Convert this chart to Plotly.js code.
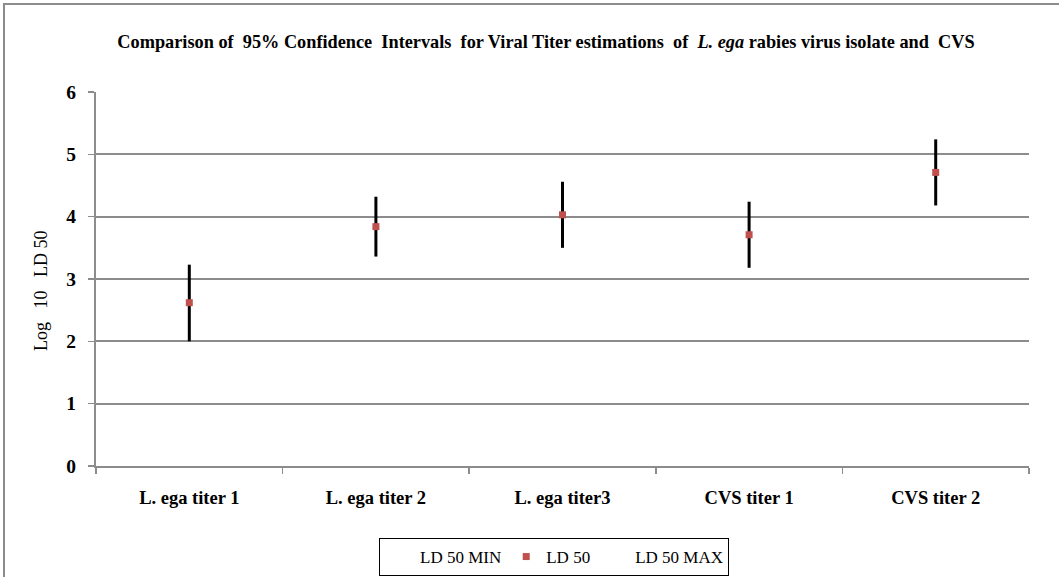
<!DOCTYPE html>
<html>
<head>
<meta charset="utf-8">
<script src="https://cdn.plot.ly/plotly-3.0.1.min.js"></script>
<style>
  html, body { margin: 0; padding: 0; background: #fff; }
  #wrap { position: relative; width: 1059px; height: 577px; overflow: hidden; }
  #chart { position: absolute; left: 0; top: 0; width: 1059px; height: 577px; }
  #frame { position: absolute; left: 3px; top: 3px; width: 1070px; height: 600px;
           border-left: 2px solid #8c8c8c; border-top: 2px solid #8c8c8c; pointer-events: none; }
</style>
</head>
<body>
<div id="wrap">
  <div id="chart"></div>
  <div id="frame"></div>
</div>
<script>
const categories = ["L. ega titer 1", "L. ega titer 2", "L. ega titer3", "CVS titer 1", "CVS titer 2"];
const ld50Min = [2.00, 3.36, 3.50, 3.18, 4.18];
const ld50 =    [2.62, 3.84, 4.03, 3.71, 4.71];
const ld50Max = [3.23, 4.32, 4.56, 4.24, 5.24];
const yTicks = [0, 1, 2, 3, 4, 5, 6];

const serif = "Liberation Serif, Times New Roman, serif";

const traces = [
  {
    name: "LD 50 MIN",
    type: "scatter",
    mode: "markers",
    x: categories,
    y: ld50Min,
    marker: { color: "rgba(0,0,0,0)", size: 1 },
    error_y: {
      type: "data",
      symmetric: false,
      array: ld50Max.map((v, i) => v - ld50Min[i]),
      arrayminus: ld50Min.map(() => 0),
      color: "#000000",
      thickness: 3,
      width: 0
    },
    hoverinfo: "skip"
  },
  {
    name: "LD 50",
    type: "scatter",
    mode: "markers",
    x: categories,
    y: ld50,
    marker: { symbol: "square", size: 7, color: "#C0504D" }
  },
  {
    name: "LD 50 MAX",
    type: "scatter",
    mode: "markers",
    x: categories,
    y: ld50Max,
    marker: { color: "rgba(0,0,0,0)", size: 1 },
    hoverinfo: "skip"
  }
];

const layout = {
  width: 1059,
  height: 577,
  margin: { l: 96, r: 30, t: 92, b: 111 },
  paper_bgcolor: "#ffffff",
  plot_bgcolor: "#ffffff",
  font: { family: serif, color: "#000000", size: 17 },
  title: {
    text: "Comparison of\u00A0 95% Confidence\u00A0 Intervals\u00A0 for Viral Titer estimations\u00A0 of\u00A0 <i>L. ega</i> rabies virus isolate and\u00A0 CVS",
    font: { family: serif, size: 18.3, color: "#000000", weight: "bold" },
    xref: "container",
    x: 546 / 1059,
    xanchor: "center",
    yref: "container",
    y: 1 - 42 / 577,
    yanchor: "middle"
  },
  xaxis: {
    type: "category",
    range: [-0.5, 4.5],
    tickson: "boundaries",
    ticks: "outside",
    ticklen: 6,
    tickwidth: 1.5,
    tickcolor: "#8c8c8c",
    showgrid: false,
    showline: true,
    linecolor: "#8c8c8c",
    linewidth: 2,
    zeroline: false,
    automargin: false,
    ticklabelstandoff: 14,
    tickfont: { family: serif, size: 18.5, color: "#000000", weight: "bold" },
    fixedrange: true
  },
  yaxis: {
    range: [0, 6],
    tickvals: yTicks,
    ticktext: yTicks.map(String),
    ticks: "outside",
    ticklen: 6,
    tickwidth: 1.5,
    tickcolor: "#8c8c8c",
    showgrid: true,
    gridcolor: "#8c8c8c",
    gridwidth: 2,
    showline: true,
    linecolor: "#8c8c8c",
    linewidth: 2,
    zeroline: false,
    automargin: false,
    ticklabelstandoff: 8,
    tickfont: { family: serif, size: 19.5, color: "#000000", weight: "bold" },
    fixedrange: true
  },
  annotations: [
    {
      text: "Log\u00A0\u00A0 10\u00A0\u00A0 LD 50",
      xref: "paper", yref: "paper",
      x: (41 - 96) / 933, y: (466 - 291) / 374,
      xanchor: "center", yanchor: "middle",
      textangle: -90,
      showarrow: false,
      font: { family: serif, size: 18, color: "#000000" }
    }
  ],
  showlegend: true,
  legend: {
    orientation: "h",
    xref: "paper", yref: "container",
    x: (554 - 96) / 933,
    xanchor: "center",
    y: 1 - 538 / 577,
    yanchor: "top",
    bordercolor: "#000000",
    borderwidth: 1,
    bgcolor: "#ffffff",
    font: { family: serif, size: 17, color: "#000000" },
    itemwidth: 30,
    traceorder: "normal"
  }
};

Plotly.newPlot("chart", traces, layout, { displayModeBar: false, staticPlot: true });
</script>
</body>
</html>
